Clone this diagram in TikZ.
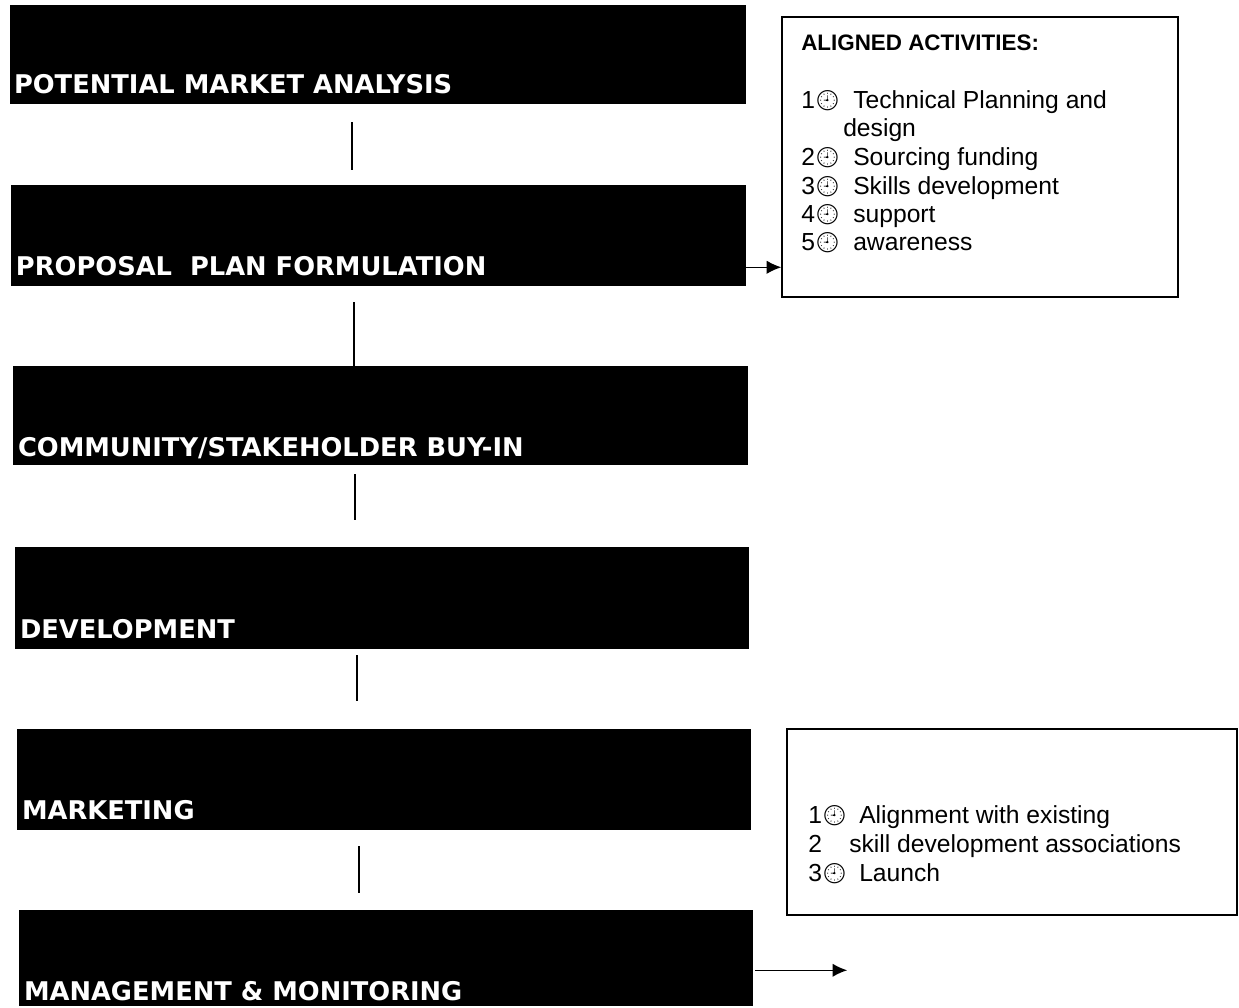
\documentclass[tikz,border=0pt]{standalone}
\usepackage{fontspec}
\setmainfont{Liberation Sans}
\newfontfamily\boxfont{DejaVu Sans}
\newfontfamily\emojifont{Noto Emoji}
\usetikzlibrary{fit,arrows.meta,calc}
\newcommand{\clk}{\raisebox{0.5pt}{\emojifont\fontsize{15}{15}\selectfont 🕘}}
\begin{document}
\begin{tikzpicture}[x=0.75pt,y=-0.75pt,
  blk/.style={fill=black,draw=black,inner sep=0pt},
  lbl/.style={anchor=base west,inner sep=0pt,text=white,font=\boxfont\bfseries\fontsize{19.3}{22}\selectfont},
  abox/.style={draw=black,line width=0.9pt,inner sep=0pt},
  hd/.style={anchor=base west,inner sep=0pt,font=\bfseries\fontsize{16.8}{19}\selectfont},
  itm/.style={anchor=base west,inner sep=0pt,font=\fontsize{18.5}{21}\selectfont},
  conn/.style={line width=1.3pt},
  arr/.style={line width=1.1pt,-{Latex[length=11pt,width=10pt]}}]
\useasboundingbox (0,0) rectangle (1239,1007);
% black stage boxes
\node[blk,fit={(10,5)(745,103)}] (b1) {};
\node[blk,fit={(11,185)(745,285)}] (b2) {};
\node[blk,fit={(13,366)(747,464)}] (b3) {};
\node[blk,fit={(15,547)(748,648)}] (b4) {};
\node[blk,fit={(17,729)(750,829)}] (b5) {};
\node[blk,fit={(19,910)(752,1005)}] (b6) {};
\node[lbl] (t1) at ($(b1.south west)+(4,-10)$) {POTENTIAL MARKET ANALYSIS};
\node[lbl] (t2) at ($(b2.south west)+(5,-10)$) {PROPOSAL\ \ PLAN FORMULATION};
\node[lbl] (t3) at ($(b3.south west)+(5,-8)$) {COMMUNITY/STAKEHOLDER BUY-IN};
\node[lbl] (t4) at ($(b4.south west)+(5,-10)$) {DEVELOPMENT};
\node[lbl] (t5) at ($(b5.south west)+(5,-10)$) {MARKETING};
\node[lbl] (t6) at ($(b6.south west)+(5,-5)$) {MANAGEMENT \& MONITORING};
% connectors
\draw[conn] ($(b1.south west)+(342,19)$) -- ($(b2.north west)+(341,-15)$);
\draw[conn] ($(b2.south west)+(343,17)$) -- ($(b3.north west)+(341,2)$);
\draw[conn] ($(b3.south west)+(342,10)$) -- ($(b4.north west)+(340,-27)$);
\draw[conn] ($(b4.south west)+(342,7)$) -- ($(b5.north west)+(340,-28)$);
\draw[conn] ($(b5.south west)+(342,17)$) -- ($(b6.north west)+(340,-17)$);
% right boxes
\node[abox,fit={(782,17)(1178,297)}] (ra) {};
\node[abox,fit={(787,729)(1237,915)}] (rb) {};
\node[hd] (h1) at (801,50) {ALIGNED ACTIVITIES:};
\node[itm] (a1n) at (801,108) {1\clk};
\node[itm] (a1t) at (853,108) {Technical Planning and};
\node[itm] (a1u) at (843,136) {design};
\node[itm] (a2n) at (801,165) {2\clk};
\node[itm] (a2t) at (853,165) {Sourcing funding};
\node[itm] (a3n) at (801,194) {3\clk};
\node[itm] (a3t) at (853,194) {Skills development};
\node[itm] (a4n) at (801,222) {4\clk};
\node[itm] (a4t) at (853,222) {support};
\node[itm] (a5n) at (801,250) {5\clk};
\node[itm] (a5t) at (853,250) {awareness};
\node[itm] (c1n) at (808,823) {1\clk};
\node[itm] (c1t) at (859,823) {Alignment with existing};
\node[itm] (c2n) at (808,852) {2};
\node[itm] (c2t) at (849,852) {skill development associations};
\node[itm] (c3n) at (808,881) {3\clk};
\node[itm] (c3t) at (859,881) {Launch};
% arrows
\coordinate (p1) at ($(b2.south east)+(0,-18)$);
\draw[arr] (p1) -- (p1 -| ra.west);
\coordinate (p2) at ($(b6.south east)+(3,-35)$);
\coordinate (q2) at ($(p2)+(92,0)$);
\draw[arr] (p2) -- (q2);
\end{tikzpicture}
\end{document}
